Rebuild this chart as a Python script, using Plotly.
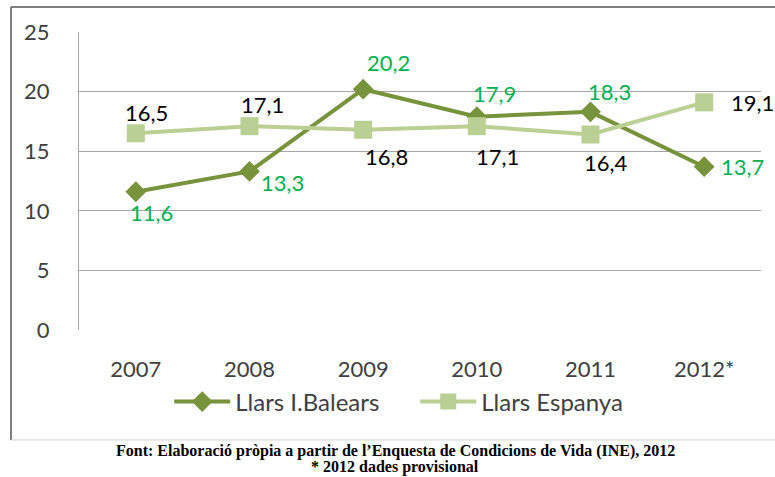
import plotly.graph_objects as go

years = ["2007", "2008", "2009", "2010", "2011", "2012*"]
balears = [11.6, 13.3, 20.2, 17.9, 18.3, 13.7]
espanya = [16.5, 17.1, 16.8, 17.1, 16.4, 19.1]
y_ticks = [0, 5, 10, 15, 20, 25]

# label offsets (pixels) - style only
bal_shift = [(16, -21), (33, -11), (25, 27), (18, 23), (19, 20), (38, 0)]
esp_shift = [(11, 21), (13, 22), (23, -27), (21, -30), (15, -28), (48, 0)]

FONT = "Lato"
FS = 22
C_BAL = "#77933C"
C_ESP = "#B9CF93"

fig = go.Figure()
fig.add_trace(go.Scatter(
    x=years, y=balears, name="Llars I.Balears", mode="lines+markers",
    line=dict(color=C_BAL, width=4),
    marker=dict(symbol="diamond", size=16, color=C_BAL),
))
fig.add_trace(go.Scatter(
    x=years, y=espanya, name="Llars Espanya", mode="lines+markers",
    line=dict(color=C_ESP, width=4),
    marker=dict(symbol="square", size=18, color=C_ESP),
))

def fmt(v):
    return f"{v:.1f}".replace(".", ",")

annotations = []
for i, (yv, (dx, dy)) in enumerate(zip(balears, bal_shift)):
    annotations.append(dict(x=i, y=yv, text=fmt(yv), showarrow=False,
                            xshift=dx, yshift=dy,
                            font=dict(family=FONT, size=FS, color="#00B050")))
for i, (yv, (dx, dy)) in enumerate(zip(espanya, esp_shift)):
    annotations.append(dict(x=i, y=yv, text=fmt(yv), showarrow=False,
                            xshift=dx, yshift=dy,
                            font=dict(family=FONT, size=FS, color="#000000")))

annotations.append(dict(
    xref="paper", yref="paper", x=0.464, y=-0.406, showarrow=False,
    text="<b>Font: Elaboració pròpia a partir de l’Enquesta de Condicions de Vida (INE), 2012</b>",
    font=dict(family="Liberation Serif", size=16, color="#000000"),
    xanchor="center", yanchor="middle"))
annotations.append(dict(
    xref="paper", yref="paper", x=0.464, y=-0.46, showarrow=False,
    text="<b>* 2012 dades provisional</b>",
    font=dict(family="Liberation Serif", size=16, color="#000000"),
    xanchor="center", yanchor="middle"))

shapes = [
    # outer frame
    dict(type="line", xref="paper", yref="paper", x0=-0.0997, x1=-0.0997,
         y0=-0.369, y1=1.0839, line=dict(color="#7f7f7f", width=2)),
    dict(type="line", xref="paper", yref="paper", x0=-0.0997, x1=1.03,
         y0=1.0839, y1=1.0839, line=dict(color="#7f7f7f", width=2)),
    dict(type="line", xref="paper", yref="paper", x0=-0.0997, x1=1.03,
         y0=-0.369, y1=-0.369, line=dict(color="#d4d4d4", width=1)),
]

fig.update_layout(
    width=775, height=477,
    margin=dict(l=79, r=14, t=32, b=147, autoexpand=False),
    paper_bgcolor="white", plot_bgcolor="white",
    font=dict(family=FONT, size=FS, color="#404040"),
    showlegend=True,
    legend=dict(orientation="h", x=0.493, xanchor="center", y=-0.2416,
                yanchor="middle", font=dict(family=FONT, size=24, color="#404040"),
                itemwidth=56, entrywidth=175, bgcolor="rgba(0,0,0,0)",
                tracegroupgap=0),
    annotations=annotations,
    shapes=shapes,
    xaxis=dict(type="category", range=[-0.5, 5.5], showgrid=False, zeroline=False,
               showline=False, ticks="",
               tickfont=dict(family=FONT, size=FS, color="#404040"),
               ticklabelstandoff=24, fixedrange=True, automargin=False),
    yaxis=dict(range=[0, 25], tickvals=y_ticks, showgrid=True,
               gridcolor="#a6a6a6", gridwidth=1, zeroline=False,
               showline=True, linecolor="#a6a6a6", linewidth=1,
               ticks="", tickfont=dict(family=FONT, size=FS, color="#404040"),
               ticklabelstandoff=24, fixedrange=True, automargin=False),
)

fig.write_html("out.html", config={"displayModeBar": False},
               post_script="document.body.style.margin='0';document.body.style.padding='0';")
